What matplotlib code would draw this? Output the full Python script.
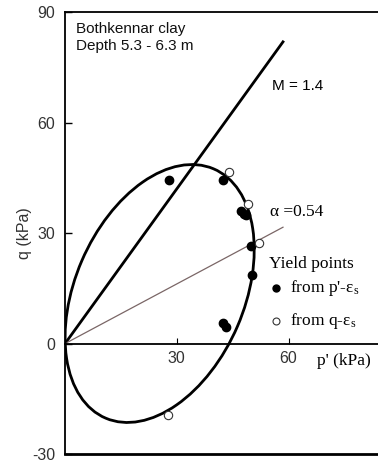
import numpy as np
import matplotlib
matplotlib.use("Agg")
import matplotlib.pyplot as plt
from matplotlib.patches import Ellipse

# critical state and anisotropy lines
M = 1.4
alpha = 0.54
line_p_end = 58.5

# yield curve (ellipse through the origin)
yc_center = (25.4, 13.6)
yc_width = 73.6
yc_height = 45.4
yc_angle = 66.9

# yield points read from p'-eps_s
p_filled = [28.0, 42.5, 47.3, 48.0, 48.6, 50.0, 50.3, 42.5, 43.3]
q_filled = [44.5, 44.5, 36.0, 35.3, 34.8, 26.4, 18.5, 5.7, 4.6]

# yield points read from q-eps_s
p_open = [44.0, 49.0, 52.0, 27.7]
q_open = [46.5, 38.0, 27.2, -19.3]

sans = "Liberation Sans"
serif = "Liberation Serif"

plt.rcParams["axes.unicode_minus"] = False
plt.rcParams["mathtext.fontset"] = "custom"
plt.rcParams["mathtext.rm"] = serif
plt.rcParams["mathtext.it"] = serif + ":italic"

fig = plt.figure(figsize=(3.78, 4.62), dpi=100)
ax = fig.add_axes([0.172, 0.017, 0.828, 0.957])
ax.set_xlim(0, 84)
ax.set_ylim(-30, 90)

# frame: left, top, bottom; x-axis drawn through q = 0
ax.spines["right"].set_visible(False)
ax.spines["bottom"].set_position(("data", 0))
for s in ["left", "top", "bottom"]:
    ax.spines[s].set_linewidth(1.3)
ax.axhline(-30, color="black", lw=2.0, clip_on=False)

ax.set_xticks([30, 60])
ax.set_yticks([-30, 0, 30, 60, 90])
ax.tick_params(axis="x", direction="in", length=4, width=0.8, pad=5,
               labelsize=11.5)
ax.tick_params(axis="y", direction="in", length=5, width=1.0, pad=7,
               labelsize=11.5)
for lab in ax.get_xticklabels() + ax.get_yticklabels():
    lab.set_fontfamily(sans)
    lab.set_color("#333333")

ps = np.array([0, line_p_end])
ax.plot(ps, M * ps, color="black", lw=2.0)
ax.plot(ps, alpha * ps, color="#7a6666", lw=0.9)

ax.add_patch(Ellipse(yc_center, yc_width, yc_height, angle=yc_angle,
                     fill=False, edgecolor="black", lw=2.0, zorder=3))

ax.plot(p_filled, q_filled, "o", color="black", ms=6, zorder=4)
ax.plot(p_open, q_open, "o", mfc="white", mec="#333333", mew=0.8, ms=6,
        zorder=4)

ax.text(3, 87.4, "Bothkennar clay\nDepth 5.3 - 6.3 m", family=sans,
        fontsize=11, va="top", linespacing=1.35, color="#111111")
ax.text(55.6, 70, "M = 1.4", family=sans, fontsize=11, va="center")
ax.text(55.0, 35.6, "\u03b1 =0.54", family=serif, fontsize=12.5,
        va="center")

ax.text(54.8, 21.7, "Yield points", family=serif, fontsize=12.5,
        va="center")
ax.plot([56.6], [15.2], "o", color="black", ms=5, clip_on=False)
ax.text(60.3, 15.2, "from p'-\u03b5$_{\\rm s}$", family=serif,
        fontsize=12.5, va="center")
ax.plot([56.6], [6.2], "o", mfc="white", mec="#333333", mew=0.8, ms=5,
        clip_on=False)
ax.text(60.3, 6.2, "from q-\u03b5$_{\\rm s}$", family=serif, fontsize=12.5,
        va="center")

ax.text(67.7, -4.6, "p' (kPa)", family=serif, fontsize=12.5, va="center")
fig.text(0.066, 0.496, "q (kPa)", family=sans, fontsize=11.5, rotation=90,
         va="center", ha="center", color="#333333")

fig.savefig("out.png", dpi=100)
